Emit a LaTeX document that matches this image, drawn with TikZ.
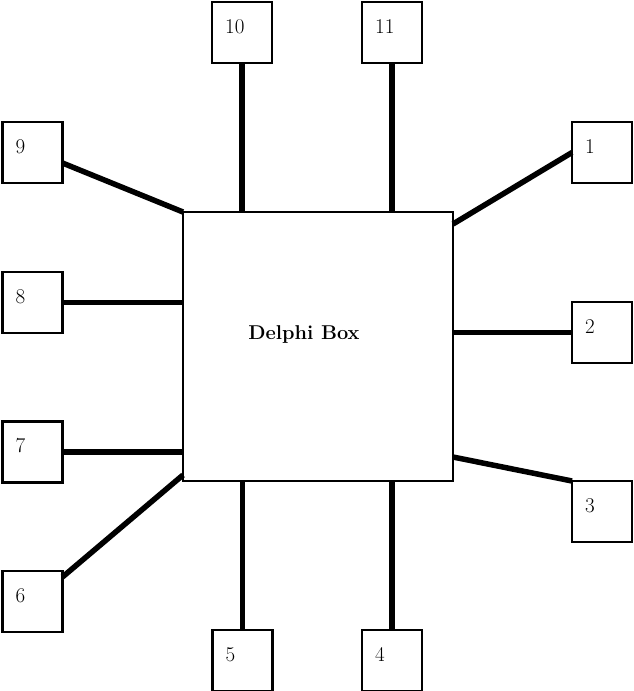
\documentclass[tikz,border=0pt]{standalone}
\begin{document}
\begin{tikzpicture}[x=1pt,y=-1pt,
  smallbox/.style={draw, line width=2.2pt, fill=white, minimum width=60pt, minimum height=61pt, inner sep=0pt, outer sep=0pt},
  bigbox/.style={draw, line width=2.2pt, fill=white, minimum width=270pt, minimum height=269pt, inner sep=0pt, outer sep=0pt},
  num/.style={anchor=base west, inner sep=0pt, font=\fontsize{21}{25}\selectfont},
  conn/.style={line width=5.5pt}]
\useasboundingbox (0,0) rectangle (633,691);
\fill[white] (0,0) rectangle (633,691);
% central box
\node[bigbox] (c) at (318,346.5) {};
\node[anchor=base, inner sep=0pt, font=\fontsize{20}{24}\selectfont\bfseries] (ct) at (304,339) {Delphi Box};
% small boxes
\node[smallbox] (b10) at (242,32.5) {};
\node[smallbox] (b11) at (392,32.5) {};
\node[smallbox] (b9) at (32.5,152.5) {};
\node[smallbox] (b1) at (602,152.5) {};
\node[smallbox] (b8) at (32.5,302.5) {};
\node[smallbox] (b2) at (602,332.5) {};
\node[smallbox] (b7) at (32.5,452) {};
\node[smallbox] (b3) at (602,511.5) {};
\node[smallbox] (b6) at (32.5,601.5) {};
\node[smallbox] (b5) at (242.5,660.5) {};
\node[smallbox] (b4) at (392,660.5) {};
% labels
\foreach \b/\t in {b10/10,b11/11,b9/9,b1/1,b8/8,b2/2,b7/7,b3/3,b6/6,b5/5,b4/4}{
  \node[num] (l\b) at ([xshift=13pt,yshift=-31pt]\b.north west) {\t};
}
% connectors
\draw[conn] (b10.south) -- (b10.south |- c.north);
\draw[conn] (b11.south) -- (b11.south |- c.north);
\draw[conn] ([yshift=-10.5pt]b9.east) -- (c.north west);
\draw[conn] (b1.west) -- ([yshift=-12pt]c.north east);
\draw[conn] (b8.east) -- (b8.east -| c.west);
\draw[conn] (b2.west) -- (b2.west -| c.east);
\draw[conn] (b7.east) -- (b7.east -| c.west);
\draw[conn] ([yshift=24pt]c.south east) -- (b3.north west);
\draw[conn] ([yshift=-6pt]b6.north east) -- ([yshift=6pt]c.south west);
\draw[conn] (b5.north) -- (b5.north |- c.south);
\draw[conn] (b4.north) -- (b4.north |- c.south);
\end{tikzpicture}
\end{document}
